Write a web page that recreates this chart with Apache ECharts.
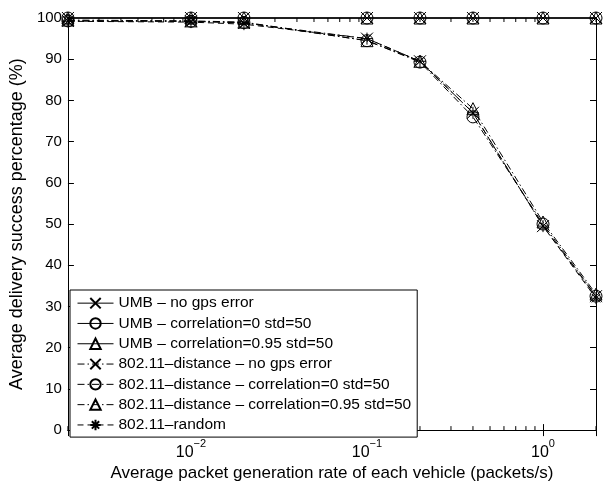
<!DOCTYPE html>
<html><head><meta charset="utf-8">
<script src="https://cdn.jsdelivr.net/npm/echarts@6/dist/echarts.min.js"></script>
<style>html,body{margin:0;padding:0;background:#fff}#c{width:607px;height:487px}</style>
</head><body><div id="c"></div>
<script>
const xValues = [0.002, 0.01, 0.02, 0.1, 0.2, 0.4, 1, 2];
const umbNoGps = [100, 100, 100, 100, 100, 100, 100, 100];
const umbCorr0 = [100, 100, 100, 100, 100, 100, 100, 100];
const umbCorr095 = [100, 100, 100, 100, 100, 100, 100, 100];
const distNoGps = [99.3, 99.2, 98.8, 95.0, 89.5, 77.0, 49.5, 32.5];
const distCorr0 = [99.3, 99.2, 98.9, 94.5, 89.3, 76.0, 50.0, 32.5];
const distCorr095 = [99.5, 99.3, 99.0, 94.5, 89.5, 78.0, 50.5, 33.0];
const random80211 = [99.2, 99.0, 98.5, 95.0, 89.5, 77.0, 49.5, 32.0];
const seriesNames = [
  'UMB – no gps error',
  'UMB – correlation=0 std=50',
  'UMB – correlation=0.95 std=50',
  '802.11–distance – no gps error',
  '802.11–distance – correlation=0 std=50',
  '802.11–distance – correlation=0.95 std=50',
  '802.11–random'
];
const minorTicks = [0.002,0.003,0.004,0.005,0.006,0.007,0.008,0.009,
  0.02,0.03,0.04,0.05,0.06,0.07,0.08,0.09,
  0.2,0.3,0.4,0.5,0.6,0.7,0.8,0.9,2];

const CROSS = 'path://M0,0L10,10M10,0L0,10';
const STAR = 'path://M5,0L5,10M0,5L10,5M1.5,1.5L8.5,8.5M8.5,1.5L1.5,8.5';
const TRI = 'path://M5,0L10,9L0,9Z';
const CIRC = 'circle';

function pairs(arr){ return xValues.map((x,i)=>[x,arr[i]]); }
function mk(name, arr, symbol, dash){
  return {
    name, type:'line', data:pairs(arr), symbol, symbolSize: 12, clip:false,
    color:'#000',
    lineStyle:{color:'#000', width:1, type: dash},
    itemStyle:{color:'rgba(255,255,255,0)', borderColor:'#000', borderWidth:1},
    emphasis:{disabled:true}, animation:false, z:3
  };
}
const DASHDOT = [7,3,1.5,3];
const DASH = [6,4];

const series = [
  mk(seriesNames[0], umbNoGps, CROSS, 'solid'),
  mk(seriesNames[1], umbCorr0, CIRC, 'solid'),
  mk(seriesNames[2], umbCorr095, TRI, 'solid'),
  mk(seriesNames[3], distNoGps, CROSS, DASHDOT),
  mk(seriesNames[4], distCorr0, CIRC, DASHDOT),
  mk(seriesNames[5], distCorr095, TRI, DASHDOT),
  mk(seriesNames[6], random80211, STAR, DASH),
  {
    type:'custom', silent:true, animation:false, z:2,
    data: minorTicks.map(v=>[v]),
    renderItem:function(params, api){
      const p = api.coord([api.value(0), 0]);
      const top = params.coordSys.y;
      const bot = params.coordSys.y + params.coordSys.height;
      return {type:'group', children:[
        {type:'line', shape:{x1:p[0],y1:bot,x2:p[0],y2:bot-4}, style:{stroke:'#000',lineWidth:1}},
        {type:'line', shape:{x1:p[0],y1:top,x2:p[0],y2:top+4}, style:{stroke:'#000',lineWidth:1}}
      ]};
    }
  }
];

const font = 'Liberation Sans, Arial, sans-serif';
const decadeLabel = function(v){
  const l = Math.log10(v);
  if (Math.abs(l - Math.round(l)) > 1e-6) return '';
  const e = Math.round(l);
  return '{b|10}{s|' + (e < 0 ? '−' + (-e) : e) + '}';
};

const chart = echarts.init(document.getElementById('c'), null, {renderer:'canvas'});
chart.setOption({
  animation:false,
  backgroundColor:'#fff',
  grid:{left:63, right:11, top:18, bottom:48, containLabel:false},
  xAxis:[{
    type:'log', logBase:10, min:0.002, max:2,
    axisLine:{show:true, lineStyle:{color:'#000', width:1}},
    axisTick:{show:true, inside:true, length:6, lineStyle:{color:'#000'}},
    splitLine:{show:false},
    axisLabel:{
      formatter: decadeLabel, margin:8, color:'#000',
      rich:{
        b:{fontSize:16, fontFamily:font, color:'#000', verticalAlign:'bottom', lineHeight:22},
        s:{fontSize:11, fontFamily:font, color:'#000', verticalAlign:'top', lineHeight:22}
      }
    },
    name:'Average packet generation rate of each vehicle (packets/s)',
    nameLocation:'middle', nameGap:28,
    nameTextStyle:{fontSize:17, fontFamily:font, color:'#000'}
  },{
    type:'log', logBase:10, min:0.002, max:2, position:'top',
    axisLine:{show:true, lineStyle:{color:'#000', width:1}},
    axisTick:{show:true, inside:true, length:6, lineStyle:{color:'#000'}},
    axisLabel:{show:false}, splitLine:{show:false}
  }],
  yAxis:[{
    type:'value', min:0, max:100, interval:10,
    axisLine:{show:true, lineStyle:{color:'#000', width:1}},
    axisTick:{show:true, inside:true, length:6, lineStyle:{color:'#000'}},
    splitLine:{show:false},
    axisLabel:{fontSize:15, fontFamily:font, color:'#000', margin:6},
    name:'Average delivery success percentage (%)',
    nameLocation:'middle', nameGap:36,
    nameTextStyle:{fontSize:18, fontFamily:font, color:'#000'}
  },{
    type:'value', min:0, max:100, interval:10, position:'right',
    axisLine:{show:true, lineStyle:{color:'#000', width:1}},
    axisTick:{show:true, inside:true, length:6, lineStyle:{color:'#000'}},
    axisLabel:{show:false}, splitLine:{show:false}
  }],
  legend:{
    data: seriesNames,
    orient:'vertical', left:70, top:290,
    itemWidth:36, itemHeight:13, itemGap:2,
    padding:[4,6,3,7],
    lineStyle:{width:1},
    backgroundColor:'#fff', borderColor:'#000', borderWidth:1, borderRadius:0,
    textStyle:{fontSize:15.5, fontFamily:font, color:'#000', lineHeight:18.3},
    selectedMode:false
  },
  series
});
</script></body></html>
